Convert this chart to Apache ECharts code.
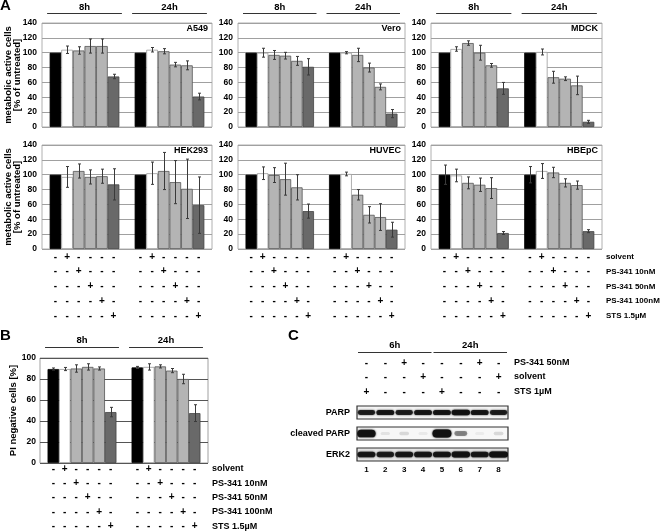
<!DOCTYPE html>
<html><head><meta charset="utf-8">
<script src="https://cdn.jsdelivr.net/npm/echarts@6/dist/echarts.min.js"></script>
<style>html,body{margin:0;padding:0;background:#fff}#c{width:664px;height:531px}</style>
</head><body><div id="c"></div>
<script>
const FONT = '"Liberation Sans", Arial, Helvetica, sans-serif';

// ---------- data ----------
const timeGroups = ['8h', '24h'];
const treatmentRows = ['solvent', 'PS-341 10nM', 'PS-341 50nM', 'PS-341 100nM', 'STS 1.5µM'];
const barLabels = ['untreated', 'solvent', 'PS-341 10nM', 'PS-341 50nM', 'PS-341 100nM', 'STS 1.5µM'];
const cellLines = ['A549', 'Vero', 'MDCK', 'HEK293', 'HUVEC', 'HBEpC'];
const yTicksA = [0, 20, 40, 60, 80, 100, 120, 140];
const yTicksB = [0, 20, 40, 60, 80, 100];
// values: 8h (6 bars) then 24h (6 bars)
const a549Mean  = [100, 104, 103, 109, 109, 68,   100, 104, 102, 84, 83, 41];
const a549Err   = [0, 5, 5, 9.5, 9.5, 3,          0, 3, 3.5, 3, 6, 4.5];
const veroMean  = [100, 100, 97, 96, 89, 81,      100, 100, 97, 80, 54, 18];
const veroErr   = [0, 6, 6, 4.5, 6, 11,           0, 1.5, 9, 6, 4, 5.5];
const mdckMean  = [100, 105, 113, 100, 83, 52,    100, 101, 67, 65, 56, 7];
const mdckErr   = [0, 3, 3, 10, 2.5, 8,           0, 4, 8, 2.5, 12.5, 2];
const hekMean   = [100, 97, 105, 97, 98, 87,      100, 102, 105, 90, 81, 59];
const hekErr    = [0, 14, 9.5, 9.5, 9.5, 21,      0, 15, 25, 29, 40, 38];
const huvecMean = [100, 102, 99.5, 94, 83, 51,    100, 101, 73, 46, 43, 26];
const huvecErr  = [0, 8.5, 10, 21.5, 17, 9.5,     0, 2.5, 7, 11, 18, 10];
const hbepcMean = [100, 99, 89, 86.5, 82, 21.5,   100, 105, 103, 89, 86, 24];
const hbepcErr  = [13, 8.5, 8, 9, 14, 2,          11, 10, 7, 5.5, 5.5, 2];
const piMean    = [89.5, 89.5, 90, 91.5, 90, 48.5, 91, 91.5, 92, 88, 80, 47.5];
const piErr     = [1, 1.5, 3.5, 3, 1.5, 4.5,      1, 3, 1.5, 2, 4.5, 8];

// panel C (western blot)
const lanes = ['1', '2', '3', '4', '5', '6', '7', '8'];
const blotTimes = ['6h', '24h'];
const blotRows = ['PS-341 50nM', 'solvent', 'STS 1µM'];
const blotPS      = ['-', '-', '+', '-', '-', '-', '+', '-'];
const blotSolvent = ['-', '-', '-', '+', '-', '-', '-', '+'];
const blotSTS     = ['+', '-', '-', '-', '+', '-', '-', '-'];
const blotNames = ['PARP', 'cleaved PARP', 'ERK2'];
const parpBand    = [0.85, 0.9, 0.85, 0.9, 0.9, 0.95, 0.9, 0.85];
const cleavedBand = [0.95, 0.08, 0.12, 0.06, 1.0, 0.42, 0.05, 0.12];
const erkBand     = [0.9, 0.85, 0.9, 0.9, 0.9, 0.95, 0.9, 1.0];

// ---------- styles ----------
const GAP = 0.18;
const barFill = ['#000000', '#ffffff', '#b4b4b4', '#b4b4b4', '#b4b4b4', '#696969'];
const barBorder = ['#000000', '#9a9a9a', '#555555', '#555555', '#555555', '#444444'];
const colLeft = [42, 238, 431];
const colWidth = [170, 167, 171];
const rowTop = [23, 145];
const plotH = 104;

const grids = [], xAxes = [], yAxes = [], series = [], graphics = [];

function txt(s, x, y, size, align, valign, weight) {
  return { type: 'text', x: x, y: y, silent: true,
    style: { text: s, font: (weight || 'bold') + ' ' + size + 'px ' + FONT, fill: '#000',
      textAlign: align, textVerticalAlign: valign, align: align, verticalAlign: valign } };
}

function errRender(params, api) {
  const g = api.value(0), i = api.value(1), v = api.value(2), e = api.value(3);
  if (!e) return null;
  const cw = api.size([1, 0])[0];
  const bw = cw * (1 - GAP) / 6;
  const x = Math.round(api.coord([g, v])[0] + (i - 2.5) * bw) + 0.5;
  const y1 = api.coord([g, v + e])[1], y2 = api.coord([g, v - e])[1];
  const st = { stroke: '#3a3a3a', lineWidth: 1 };
  return { type: 'group', children: [
    { type: 'line', shape: { x1: x, y1: y1, x2: x, y2: y2 }, style: st },
    { type: 'line', shape: { x1: x - 1.5, y1: y1, x2: x + 1.5, y2: y1 }, style: st },
    { type: 'line', shape: { x1: x - 1.5, y1: y2, x2: x + 1.5, y2: y2 }, style: st }
  ] };
}

function headerRender(lineOff, textOff) {
  return function (params, api) {
    const g = api.value(0);
    const cw = api.size([1, 0])[0];
    const cx = api.coord([g, 0])[0];
    const yt = params.coordSys.y;
    const ly = Math.round(yt - lineOff) + 0.5;
    return { type: 'group', children: [
      { type: 'line', shape: { x1: cx - cw * 0.44, y1: ly, x2: cx + cw * 0.44, y2: ly }, style: { stroke: '#333', lineWidth: 1 } },
      txt(timeGroups[g], cx, yt - textOff, 9.5, 'center', 'middle')
    ] };
  };
}

function signRender(firstOff, step) {
  return function (params, api) {
    const g = api.value(0), i = api.value(1);
    const cw = api.size([1, 0])[0];
    const bw = cw * (1 - GAP) / 6;
    const x = api.coord([g, 0])[0] + (i - 2.5) * bw;
    const yb = params.coordSys.y + params.coordSys.height;
    return { type: 'group', children: treatmentRows.map(function (t, r) {
      return txt(i === r + 1 ? '+' : '-', x, yb + firstOff + r * step, 10, 'center', 'middle');
    }) };
  };
}

function addBarPanel(o) {
  const k = grids.length;
  grids.push({ left: o.left, top: o.top, width: o.width, height: o.height, show: true,
    borderColor: o.border, borderWidth: 1, backgroundColor: '#fff' });
  xAxes.push({ type: 'category', gridIndex: k, data: timeGroups, axisLine: { show: false },
    axisTick: { show: false }, axisLabel: { show: false }, splitLine: { show: false } });
  const ticks = o.ticks;
  yAxes.push({ type: 'value', gridIndex: k, min: ticks[0], max: ticks[ticks.length - 1], interval: ticks[1] - ticks[0],
    axisLine: { show: false }, axisTick: { show: false },
    axisLabel: { fontFamily: FONT, fontWeight: 'bold', fontSize: 8.5, color: '#000', margin: o.labelMargin },
    splitLine: { lineStyle: { color: o.split, width: 1 } },
    name: o.yName || '', nameLocation: 'middle', nameGap: o.nameGap || 20, nameMoveOverlap: false,
    nameTextStyle: { fontFamily: FONT, fontWeight: 'bold', fontSize: 9.5, color: '#000', lineHeight: 9 } });
  for (let i = 0; i < 6; i++) {
    series.push({ type: 'bar', name: barLabels[i], xAxisIndex: k, yAxisIndex: k,
      data: [o.mean[i], o.mean[6 + i]], barGap: '0%', barCategoryGap: (GAP * 100) + '%',
      itemStyle: { color: barFill[i], borderColor: barBorder[i], borderWidth: 0.8 }, silent: true });
  }
  const errData = [];
  for (let g = 0; g < 2; g++) for (let i = 0; i < 6; i++) errData.push([g, i, o.mean[g * 6 + i], o.err[g * 6 + i]]);
  series.push({ type: 'custom', xAxisIndex: k, yAxisIndex: k, data: errData, encode: { x: 0, y: 2 },
    renderItem: errRender, z: 5, clip: false, silent: true });
  if (o.header) {
    series.push({ type: 'custom', xAxisIndex: k, yAxisIndex: k, data: [[0, 0], [1, 0]], encode: { x: 0, y: 1 },
      renderItem: headerRender(o.header[0], o.header[1]), clip: false, silent: true });
  }
  if (o.table) {
    const d = [];
    for (let g = 0; g < 2; g++) for (let i = 0; i < 6; i++) d.push([g, i, 0]);
    series.push({ type: 'custom', xAxisIndex: k, yAxisIndex: k, data: d, encode: { x: 0, y: 2 },
      renderItem: signRender(o.table[0], o.table[1]), clip: false, silent: true });
  }
  if (o.label) graphics.push(txt(o.label, o.left + o.width - 4, o.top + 6, 9, 'right', 'middle'));
}

// ---------- panel A ----------
const meansA = [a549Mean, veroMean, mdckMean, hekMean, huvecMean, hbepcMean];
const errsA = [a549Err, veroErr, mdckErr, hekErr, huvecErr, hbepcErr];
for (let r = 0; r < 2; r++) {
  for (let c = 0; c < 3; c++) {
    const n = r * 3 + c;
    addBarPanel({ left: colLeft[c], top: rowTop[r], width: colWidth[c], height: plotH,
      mean: meansA[n], err: errsA[n], ticks: yTicksA, border: '#b0b0b0', split: '#a0a0a0',
      labelMargin: 5, label: cellLines[n],
      yName: c === 0 ? 'metabolic active cells\n[% of untreated]' : '', nameGap: 20,
      header: r === 0 ? [10, 16] : null,
      table: r === 1 ? [8, 14.7] : null });
  }
}
treatmentRows.forEach(function (t, i) {
  graphics.push(txt(t, 606, rowTop[1] + plotH + 8 + i * 14.7, 8, 'left', 'middle'));
});

// ---------- panel B ----------
addBarPanel({ left: 40, top: 358, width: 168, height: 105, mean: piMean, err: piErr, ticks: yTicksB,
  border: '#a0a0a0', split: '#555555', labelMargin: 4, yName: 'PI negative cells [%]', nameGap: 22,
  header: [11, 18], table: [6, 14.3] });
treatmentRows.forEach(function (t, i) {
  graphics.push(txt(t, 212, 463 + 6 + i * 14.3, 9, 'left', 'middle'));
});

// ---------- panel C ----------
const bands = [parpBand, cleavedBand, erkBand];
const bandThick = [5.5, 8, 6];
const blotTop = [406, 427, 448];
const blotBg = ['#f4f4f4', '#f7f7f7', '#e6e6e6'];
const blotSigns = [blotPS, blotSolvent, blotSTS];
function bandRender(th) {
  return function (params, api) {
    const c = api.coord([api.value(0), api.value(1)]);
    const lw = api.size([1, 0])[0];
    const I = api.value(2);
    const w = lw * (0.45 + 0.55 * I), h = th * (0.35 + 0.65 * I);
    return { type: 'rect', shape: { x: c[0] - w / 2, y: c[1] - h / 2, width: w, height: h, r: h / 2 },
      style: { fill: '#111', opacity: I, shadowBlur: 2, shadowColor: 'rgba(0,0,0,' + I + ')' } };
  };
}
for (let r = 0; r < 3; r++) {
  const k = grids.length;
  grids.push({ left: 357, top: blotTop[r], width: 151, height: 13, show: true, borderColor: '#333',
    borderWidth: 1.2, backgroundColor: blotBg[r] });
  xAxes.push({ type: 'category', gridIndex: k, data: lanes, axisLine: { show: false }, axisTick: { show: false },
    axisLabel: { show: r === 2, fontFamily: FONT, fontWeight: 'bold', fontSize: 8, color: '#000', margin: 5 },
    splitLine: { show: false } });
  yAxes.push({ type: 'category', gridIndex: k, data: [blotNames[r]], axisLine: { show: false },
    axisTick: { show: false }, splitLine: { show: false },
    axisLabel: { fontFamily: FONT, fontWeight: 'bold', fontSize: 9, color: '#000', margin: 7 } });
  series.push({ type: 'custom', xAxisIndex: k, yAxisIndex: k, data: bands[r].map(function (v, l) { return [l, 0, v]; }),
    encode: { x: 0, y: 1 }, renderItem: bandRender(bandThick[r]), clip: true, silent: true });
  if (r === 0) {
    series.push({ type: 'custom', xAxisIndex: k, yAxisIndex: k, data: lanes.map(function (l, i) { return [i, 0]; }),
      encode: { x: 0, y: 1 }, clip: false, silent: true,
      renderItem: function (params, api) {
        const l = api.value(0);
        const x = api.coord([l, 0])[0];
        const yt = params.coordSys.y;
        const offs = [43, 29, 14];
        return { type: 'group', children: blotSigns.map(function (arr, j) {
          return txt(arr[l], x, yt - offs[j], 10, 'center', 'middle');
        }) };
      } });
    series.push({ type: 'custom', xAxisIndex: k, yAxisIndex: k, data: [[0, 0, 3], [4, 0, 7]],
      encode: { x: 0, y: 1 }, clip: false, silent: true,
      renderItem: function (params, api) {
        const a = api.value(0), b = api.value(2);
        const lw = api.size([1, 0])[0];
        const x1 = api.coord([a, 0])[0] - lw / 2 + 1, x2 = api.coord([b, 0])[0] + lw / 2 - 1;
        const yt = params.coordSys.y;
        return { type: 'group', children: [
          { type: 'line', shape: { x1: x1, y1: yt - 53.5, x2: x2, y2: yt - 53.5 }, style: { stroke: '#333', lineWidth: 1 } },
          txt(blotTimes[params.dataIndex], (x1 + x2) / 2, yt - 61, 9.5, 'center', 'middle')
        ] };
      } });
  }
}
blotRows.forEach(function (t, j) {
  graphics.push(txt(t, 514, 406 - [43, 29, 14][j], 9, 'left', 'middle'));
});

// panel letters
graphics.push(txt('A', 0, 6, 15, 'left', 'middle'));
graphics.push(txt('B', 0, 336, 15, 'left', 'middle'));
graphics.push(txt('C', 288, 336, 15, 'left', 'middle'));

const chart = echarts.init(document.getElementById('c'), null, { renderer: 'canvas' });
chart.setOption({
  animation: false,
  backgroundColor: '#ffffff',
  grid: grids, xAxis: xAxes, yAxis: yAxes, series: series,
  graphic: { elements: graphics }
});
</script></body></html>
